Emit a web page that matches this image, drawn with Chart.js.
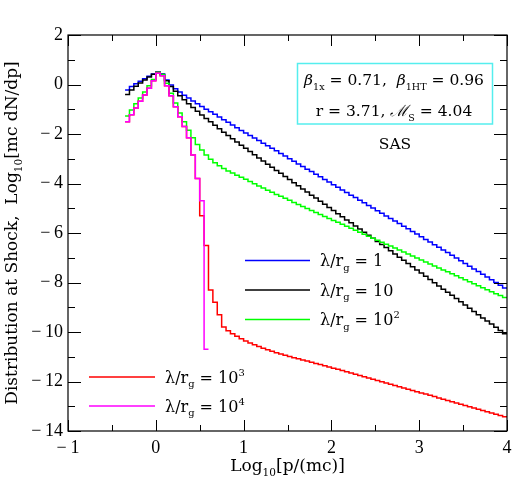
<!DOCTYPE html>
<html>
<head>
<meta charset="utf-8">
<script src="https://cdn.jsdelivr.net/npm/chart.js@4.4.0/dist/chart.umd.min.js"></script>
<style>
  html, body { margin: 0; padding: 0; background: #fff; }
</style>
</head>
<body>
<canvas id="chart" width="526" height="481"></canvas>
<script>
// histogram bins in log10(p/mc)
const binStart = -0.35;
const binWidth = 0.05;

const xTicks = [-1, 0, 1, 2, 3, 4];
const yTicks = [-14, -12, -10, -8, -6, -4, -2, 0, 2];

// log10(mc dN/dp) per bin
const lambda1 = [
  -0.22, -0.08, 0.03, 0.13, 0.23, 0.33, 0.42, 0.49, 0.42, 0.18,
  -0.02, -0.17, -0.30, -0.43, -0.55, -0.67, -0.78, -0.89, -1.00, -1.10,
  -1.20, -1.31, -1.42, -1.53, -1.64, -1.75, -1.86, -1.96, -2.06, -2.16,
  -2.26, -2.37, -2.47, -2.58, -2.68, -2.79, -2.89, -3.00, -3.10, -3.21,
  -3.31, -3.42, -3.52, -3.63, -3.73, -3.84, -3.94, -4.05, -4.15, -4.26,
  -4.36, -4.47, -4.57, -4.68, -4.78, -4.89, -4.99, -5.10, -5.20, -5.31,
  -5.41, -5.52, -5.62, -5.73, -5.83, -5.94, -6.04, -6.15, -6.26, -6.36,
  -6.47, -6.58, -6.69, -6.79, -6.90, -7.01, -7.12, -7.23, -7.34, -7.45,
  -7.56, -7.67, -7.78, -7.89, -8.00, -8.11, -8.22
];
const lambda10 = [
  -0.40, -0.22, -0.07, 0.06, 0.18, 0.30, 0.41, 0.49, 0.40, 0.15,
  -0.08, -0.27, -0.45, -0.62, -0.78, -0.93, -1.08, -1.23, -1.37, -1.51,
  -1.65, -1.79, -1.93, -2.06, -2.19, -2.32, -2.45, -2.58, -2.71, -2.84,
  -2.97, -3.09, -3.22, -3.34, -3.47, -3.59, -3.72, -3.84, -3.97, -4.09,
  -4.22, -4.34, -4.47, -4.59, -4.72, -4.84, -4.97, -5.09, -5.22, -5.34,
  -5.47, -5.59, -5.72, -5.84, -5.97, -6.09, -6.21, -6.34, -6.46, -6.59,
  -6.72, -6.85, -6.98, -7.10, -7.23, -7.36, -7.49, -7.62, -7.75, -7.88,
  -8.01, -8.14, -8.27, -8.39, -8.52, -8.65, -8.78, -8.91, -9.04, -9.17,
  -9.30, -9.43, -9.56, -9.68, -9.81, -9.94, -10.07
];
const lambda1e2 = [
  -1.27, -1.03, -0.78, -0.55, -0.30, -0.05, 0.20, 0.48, 0.40, 0.05,
  -0.35, -0.75, -1.15, -1.50, -1.85, -2.15, -2.42, -2.65, -2.85, -3.02,
  -3.16, -3.28, -3.39, -3.49, -3.58, -3.67, -3.75, -3.83, -3.92, -4.01,
  -4.10, -4.18, -4.27, -4.35, -4.44, -4.52, -4.60, -4.68, -4.77, -4.85,
  -4.93, -5.01, -5.09, -5.17, -5.25, -5.33, -5.41, -5.49, -5.57, -5.65,
  -5.73, -5.81, -5.89, -5.97, -6.05, -6.13, -6.21, -6.29, -6.37, -6.45,
  -6.53, -6.61, -6.69, -6.77, -6.85, -6.93, -7.01, -7.09, -7.17, -7.25,
  -7.33, -7.41, -7.49, -7.57, -7.65, -7.73, -7.81, -7.89, -7.97, -8.05,
  -8.13, -8.21, -8.29, -8.37, -8.45, -8.53, -8.61
];
const lambda1e3 = [
  -1.50, -1.22, -0.95, -0.68, -0.42, -0.15, 0.15, 0.45, 0.35, -0.05,
  -0.45, -0.90, -1.30, -1.70, -2.15, -2.85, -3.80, -5.30, -6.50, -8.30,
  -8.80, -9.30, -9.80, -9.95, -10.07, -10.17, -10.27, -10.36, -10.44, -10.52,
  -10.59, -10.66, -10.72, -10.78, -10.84, -10.89, -10.94, -10.99, -11.04, -11.08,
  -11.13, -11.17, -11.22, -11.27, -11.31, -11.36, -11.41, -11.46, -11.51, -11.56,
  -11.61, -11.66, -11.71, -11.76, -11.81, -11.86, -11.91, -11.96, -12.01, -12.06,
  -12.11, -12.16, -12.21, -12.26, -12.31, -12.36, -12.41, -12.46, -12.51, -12.56,
  -12.61, -12.67, -12.72, -12.77, -12.82, -12.87, -12.92, -12.97, -13.02, -13.07,
  -13.12, -13.17, -13.22, -13.27, -13.32, -13.37, -13.42
];
const lambda1e4 = [
  -1.50, -1.22, -0.95, -0.68, -0.42, -0.15, 0.15, 0.45, 0.35, -0.05,
  -0.45, -0.90, -1.30, -1.70, -2.15, -2.85, -3.80, -4.70, -10.70
];

const SERIF = "'DejaVu Serif', 'Liberation Serif', serif";
const TICK_FONT = "'Liberation Serif', 'DejaVu Serif', serif";

// histogram -> stepped line points (left bin edges + closing right edge)
function stepPoints(values) {
  const pts = values.map((v, i) => ({ x: +(binStart + i * binWidth).toFixed(3), y: v }));
  pts.push({ x: +(binStart + values.length * binWidth).toFixed(3), y: values[values.length - 1] });
  return pts;
}

function makeSet(values, color) {
  return {
    data: stepPoints(values),
    borderColor: color,
    borderWidth: 1.5,
    stepped: 'before',
    pointRadius: 0,
    fill: false
  };
}

// text with sub/superscripts: parts = [{t, s: 'sub'|'sup', i: italic}]
function richWidth(ctx, parts, size) {
  let w = 0;
  parts.forEach(p => {
    const sz = p.s ? size * 0.62 : size;
    ctx.font = (p.i ? 'italic ' : '') + sz + 'px ' + SERIF;
    w += ctx.measureText(p.t).width;
  });
  return w;
}

function drawRich(ctx, parts, x, y, size, align) {
  const w = richWidth(ctx, parts, size);
  let cx = align === 'center' ? x - w / 2 : (align === 'right' ? x - w : x);
  ctx.textAlign = 'left';
  ctx.textBaseline = 'alphabetic';
  parts.forEach(p => {
    const sz = p.s ? size * 0.62 : size;
    ctx.font = (p.i ? 'italic ' : '') + sz + 'px ' + SERIF;
    let dy = 0;
    if (p.s === 'sub') dy = size * 0.3;
    if (p.s === 'sup') dy = -size * 0.42;
    ctx.fillText(p.t, cx, y + dy);
    cx += ctx.measureText(p.t).width;
  });
}

function lambdaLabel(power) {
  const parts = [{ t: 'λ/r' }, { t: 'g', s: 'sub' }];
  if (power === 0) parts.push({ t: ' = 1' });
  else if (power === 1) parts.push({ t: ' = 10' });
  else parts.push({ t: ' = 10' }, { t: String(power), s: 'sup' });
  return parts;
}

function tickText(v) {
  return v < 0 ? '\u2212\u2009' + (-v) : String(v);
}

const framePlugin = {
  id: 'frame',
  afterDraw(chart) {
    const ctx = chart.ctx;
    const { left, right, top, bottom } = chart.chartArea;
    const xs = chart.scales.x, ys = chart.scales.y;
    ctx.save();
    ctx.strokeStyle = '#000';
    ctx.fillStyle = '#000';
    ctx.lineWidth = 1.2;
    ctx.strokeRect(left, top, right - left, bottom - top);

    ctx.lineWidth = 1;
    ctx.beginPath();
    for (let v = xs.min; v <= xs.max + 1e-6; v += 0.5) {
      const px = Math.round(xs.getPixelForValue(v)) + 0.5;
      const len = Math.abs(v - Math.round(v)) < 1e-6 ? 11 : 6;
      ctx.moveTo(px, bottom); ctx.lineTo(px, bottom - len);
      ctx.moveTo(px, top); ctx.lineTo(px, top + len);
    }
    for (let v = ys.min; v <= ys.max + 1e-6; v += 1) {
      const py = Math.round(ys.getPixelForValue(v)) + 0.5;
      const len = Math.abs(v) % 2 === 0 ? 13 : 7;
      ctx.moveTo(left, py); ctx.lineTo(left + len, py);
      ctx.moveTo(right, py); ctx.lineTo(right - len, py);
    }
    ctx.stroke();

    // tick labels
    ctx.font = '18px ' + TICK_FONT;
    ctx.textAlign = 'center';
    ctx.textBaseline = 'top';
    xTicks.forEach(v => {
      ctx.fillText(tickText(v), xs.getPixelForValue(v), bottom + 8);
    });
    ctx.textAlign = 'right';
    ctx.textBaseline = 'middle';
    yTicks.forEach(v => {
      ctx.fillText(tickText(v), left - 5, ys.getPixelForValue(v));
    });

    // axis titles
    drawRich(ctx, [{ t: 'Log' }, { t: '10', s: 'sub' }, { t: '[p/(mc)]' }],
      (left + right) / 2, bottom + 40, 17, 'center');
    ctx.save();
    ctx.translate(17, (top + bottom) / 2);
    ctx.rotate(-Math.PI / 2);
    drawRich(ctx, [{ t: 'Distribution at Shock,  Log' }, { t: '10', s: 'sub' }, { t: '[mc dN/dp]' }],
      0, 0, 17, 'center');
    ctx.restore();

    // legend
    const legend = [
      { color: '#0000ff', power: 0, x0: 245, x1: 310, y: 260.5 },
      { color: '#000000', power: 1, x0: 245, x1: 310, y: 290 },
      { color: '#00ff00', power: 2, x0: 245, x1: 310, y: 319.5 },
      { color: '#ff0000', power: 3, x0: 89, x1: 155, y: 377 },
      { color: '#ff00ff', power: 4, x0: 89, x1: 155, y: 406 }
    ];
    legend.forEach(item => {
      ctx.strokeStyle = item.color;
      ctx.lineWidth = 1.5;
      ctx.beginPath();
      ctx.moveTo(item.x0, item.y);
      ctx.lineTo(item.x1, item.y);
      ctx.stroke();
      ctx.fillStyle = '#000';
      drawRich(ctx, lambdaLabel(item.power), item.x1 + 10, item.y + 5.5, 16, 'left');
    });

    // parameter box
    ctx.strokeStyle = '#55eeee';
    ctx.lineWidth = 1.5;
    ctx.strokeRect(297.5, 63.5, 195, 60.5);
    ctx.fillStyle = '#000';
    drawRich(ctx, [
      { t: 'β', i: true }, { t: '1x', s: 'sub' }, { t: ' = 0.71,  ' },
      { t: 'β', i: true }, { t: '1HT', s: 'sub' }, { t: ' = 0.96' }
    ], 394, 85, 15.5, 'center');
    drawRich(ctx, [
      { t: 'r = 3.71, ' }, { t: 'ℳ', i: true }, { t: 'S', s: 'sub' }, { t: ' = 4.04' }
    ], 394, 116, 15.5, 'center');
    drawRich(ctx, [{ t: 'SAS' }], 395, 149, 15.5, 'center');
    ctx.restore();
  }
};

new Chart(document.getElementById('chart'), {
  type: 'line',
  data: {
    datasets: [
      makeSet(lambda1e4, '#ff00ff'),
      makeSet(lambda1e3, '#ff0000'),
      makeSet(lambda1e2, '#00ff00'),
      makeSet(lambda10, '#000000'),
      makeSet(lambda1, '#0000ff')
    ]
  },
  options: {
    responsive: false,
    devicePixelRatio: 1,
    animation: false,
    layout: { padding: { left: 68, right: 19, top: 35, bottom: 50 } },
    scales: {
      x: { type: 'linear', min: -1, max: 4, display: false },
      y: { type: 'linear', min: -14, max: 2, display: false }
    },
    plugins: {
      legend: { display: false },
      tooltip: { enabled: false }
    }
  },
  plugins: [framePlugin]
});
</script>
</body>
</html>
